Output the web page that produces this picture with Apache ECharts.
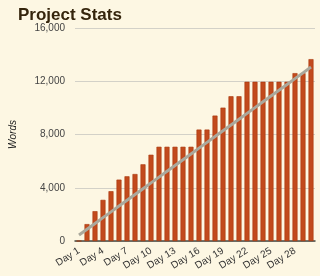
<!DOCTYPE html>
<html><head><meta charset="utf-8">
<script src="https://cdn.jsdelivr.net/npm/echarts@6/dist/echarts.min.js"></script>
<style>html,body{margin:0;padding:0;background:#fdf7e3;}#c{width:320px;height:276px;}</style>
</head><body><div id="c"></div>
<script>
const days = ['Day 1','Day 2','Day 3','Day 4','Day 5','Day 6','Day 7','Day 8','Day 9','Day 10','Day 11','Day 12','Day 13','Day 14','Day 15','Day 16','Day 17','Day 18','Day 19','Day 20','Day 21','Day 22','Day 23','Day 24','Day 25','Day 26','Day 27','Day 28','Day 29','Day 30'];
const words = [0,1270,2240,3090,3740,4610,4860,5030,5760,6480,7080,7080,7080,7080,7080,8370,8370,9420,10020,10870,10870,11960,11960,11960,11960,11960,11960,12610,12610,13660];
const trend = [450,885,1320,1755,2190,2625,3060,3495,3930,4365,4800,5235,5670,6105,6540,6975,7410,7845,8280,8715,9150,9585,10020,10455,10890,11325,11760,12195,12630,13065];
const yTicks = [0,4000,8000,12000,16000];

const chart = echarts.init(document.getElementById('c'));
chart.setOption({
  backgroundColor:'#fdf7e3',
  animation:false,
  title:{text:'Project Stats',left:13,top:2,textStyle:{fontFamily:'Liberation Sans',fontWeight:'bold',fontSize:17,color:'#35250c'}},
  grid:{left:70,right:5,top:28,bottom:35},
  xAxis:{type:'category',data:days,
    axisLine:{lineStyle:{color:'#4a4a40',width:1.5}},
    axisTick:{show:false},
    axisLabel:{interval:2,rotate:32,fontSize:10,fontFamily:'Liberation Sans',color:'#333',margin:9}},
  yAxis:{type:'value',min:yTicks[0],max:yTicks[yTicks.length-1],interval:4000,
    name:'Words',nameLocation:'middle',nameGap:57,
    nameTextStyle:{fontStyle:'italic',fontSize:10,fontFamily:'Liberation Sans',color:'#222'},
    axisLine:{show:false},axisTick:{show:false},
    axisLabel:{fontSize:10,fontFamily:'Liberation Sans',color:'#444',margin:10,
      formatter:v=>v.toLocaleString('en-US')},
    splitLine:{lineStyle:{color:'#d3d1c8',width:1.2}}},
  series:[
    {type:'bar',data:words,barWidth:5,itemStyle:{color:'#c24a1c',borderColor:'#a8360c',borderWidth:0.6}},
    {type:'line',data:trend,symbol:'none',lineStyle:{color:'#aaa89c',width:3},z:5}
  ]
});
</script></body></html>
